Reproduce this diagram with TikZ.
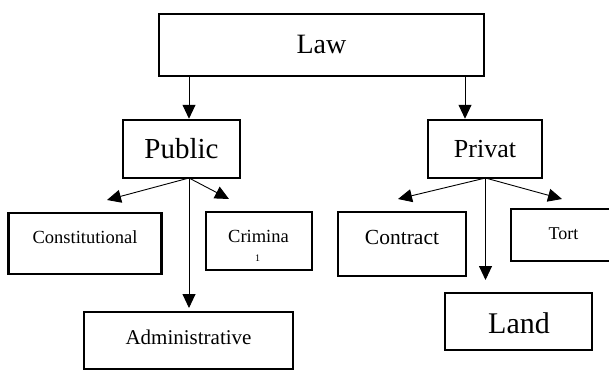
\documentclass[tikz,border=0pt]{standalone}
\usepackage{fontspec}
\setmainfont{Liberation Serif}
\usetikzlibrary{arrows.meta}
\tikzset{
  box/.style={draw, line width=2.5pt, rectangle, inner sep=0pt, fill=none},
  lbl/.style={inner sep=0pt, anchor=base},
  arr/.style={line width=0.9pt, -{Triangle[length=14pt,width=13pt]}},
}
\begin{document}
\begin{tikzpicture}[x=1pt,y=-1pt]
\clip (0,0) rectangle (609,370);
\fill[white] (0,0) rectangle (609,370);
% boxes (corners in px)
\node[box, minimum width=325pt, minimum height=62pt] (law) at (321.5,45) {};
\node[box, minimum width=117pt, minimum height=58pt] (public) at (181.5,149) {};
\node[box, minimum width=114pt, minimum height=58pt] (privat) at (485,149) {};
\node[box, minimum width=153pt, minimum height=61pt] (cons) at (85,243.5) {};
\node[box, minimum width=106pt, minimum height=58pt] (crim) at (259,241) {};
\node[box, minimum width=209pt, minimum height=57pt] (adm) at (188.5,340.5) {};
\node[box, minimum width=128pt, minimum height=64pt] (contr) at (402,244) {};
\node[box, minimum width=120pt, minimum height=52pt] (tort) at (571,235) {};
\node[box, minimum width=147pt, minimum height=57pt] (land) at (518.5,321.5) {};
% texts
\node[lbl, font=\fontsize{28}{30}\selectfont] (tlaw) at (321.5,53) {Law};
\node[lbl, font=\fontsize{29}{31}\selectfont] (tpub) at (181.5,158) {Public};
\node[lbl, font=\fontsize{26}{28}\selectfont] (tpriv) at (485,157) {Privat};
\node[lbl, font=\fontsize{18.5}{20}\selectfont] (tcons) at (85,243) {Constitutional};
\node[lbl, font=\fontsize{18.5}{20}\selectfont] (tcrim) at (258.5,242) {Crimina};
\node[lbl, font=\fontsize{10}{11}\selectfont] (tcrim2) at (257.5,261) {1};
\node[lbl, font=\fontsize{21}{23}\selectfont] (tadm) at (188.5,344) {Administrative};
\node[lbl, font=\fontsize{21.5}{23}\selectfont] (tcontr) at (402,244) {Contract};
\node[lbl, font=\fontsize{18}{20}\selectfont] (ttort) at (563.5,239) {Tort};
\node[lbl, font=\fontsize{30}{32}\selectfont] (tland) at (519,333) {Land};
% connector coordinates
\coordinate (po) at (189,178);
\coordinate (ro) at (485.5,178);
\coordinate (lp) at (189,76);
\coordinate (lr) at (465,76);
\coordinate (tcon) at (107,200);
\coordinate (tcri) at (229,199);
\coordinate (tadmc) at (189,308);
\coordinate (tcnt) at (398,199);
\coordinate (ttrt) at (562,199);
\coordinate (tlnd) at (485.5,280);
% connectors
\draw[arr] (lp) -- (lp |- public.north) ;
\draw[arr] (lr) -- (lr |- privat.north);
\draw[arr] (po) -- (tcon);
\draw[arr] (po) -- (tcri);
\draw[arr] (po) -- (tadmc);
\draw[arr] (ro) -- (tcnt);
\draw[arr] (ro) -- (ttrt);
\draw[arr] (ro) -- (tlnd);
\end{tikzpicture}
\end{document}
